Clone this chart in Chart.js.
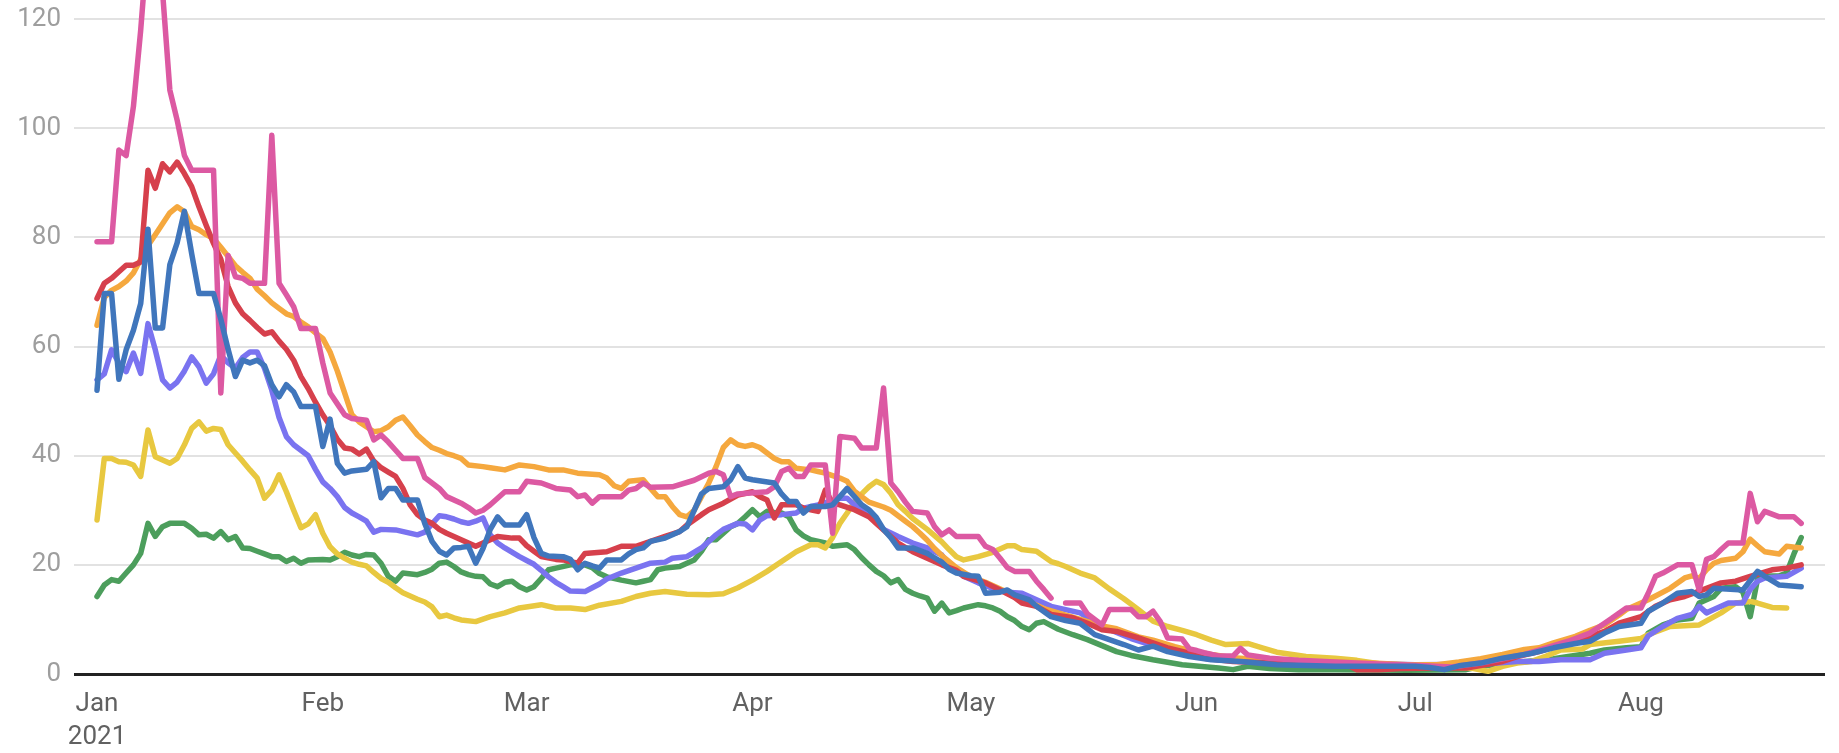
<!DOCTYPE html>
<html>
<head>
<meta charset="utf-8">
<script src="https://cdn.jsdelivr.net/npm/chart.js@4.4.1/dist/chart.umd.min.js"></script>
<style>
html,body{margin:0;padding:0;background:#fff;}
#wrap{width:1839px;height:753px;position:relative;}
</style>
</head>
<body>
<div id="wrap"><canvas id="c" width="1839" height="753"></canvas></div>
<script>
// x = day index (0 = 1 Jan 2021), y = value
const monthDays = [0, 31, 59, 90, 120, 151, 181, 212];
const monthLabels = [['Jan', '2021'], 'Feb', 'Mar', 'Apr', 'May', 'Jun', 'Jul', 'Aug'];
const yTicks = [0, 20, 40, 60, 80, 100, 120];

const pink = [[0,79.2],[2,79.2],[3,96],[4,95],[5,104],[6,118],[7,135],[8,137],[9,125],[10,107],[11,101.5],[12,95],[13,92.3],[16,92.3],[17,51.5],[18,76.7],[19,72.8],[20,72.5],[21,71.6],[23,71.6],[24,98.7],[25,71.6],[26,69.5],[27,67.3],[28,63.3],[30,63.3],[31,57],[32,51.5],[33,49.5],[34,47.5],[35,46.8],[37,46.5],[38,42.9],[39,43.8],[40,42.5],[41,41],[42,39.5],[44,39.5],[45,36],[46,35],[47,34],[48,32.5],[50,31.3],[51,30.5],[52,29.5],[53,30],[54,31],[56,33.4],[58,33.4],[59,35.3],[61,35],[63,34],[65,33.7],[66,32.5],[67,32.8],[68,31.3],[69,32.5],[72,32.5],[73,33.7],[74,34],[75,35],[76,34.2],[79,34.3],[82,35.5],[84,36.8],[85,37.1],[86,36.5],[87,32.5],[88,33],[92,33.4],[93,34.3],[94,37.1],[95,37.7],[96,36.2],[97,36.2],[98,38.3],[100,38.3],[101,25.8],[102,43.5],[104,43.2],[105,41.4],[107,41.4],[108,52.4],[109,35],[110,33.4],[111,31.5],[112,29.8],[114,29.5],[115,27],[116,25.5],[117,26.4],[118,25.2],[121,25.2],[122,23.4],[123,22.8],[124,21.2],[125,19.5],[126,18.8],[128,18.8],[129,17],[130,15.5],[131,13.9],[132,null],[133,13],[135,13],[136,11],[137,10],[138,9],[139,11.8],[142,11.8],[143,10.5],[144,10.5],[145,11.5],[146,9.6],[147,6.6],[149,6.4],[150,4.6],[151,4.3],[152,3.9],[154,3.3],[156,3.3],[157,4.7],[158,3.5],[161,2.9],[165,2.5],[170,2.2],[175,1.9],[181,1.6],[186,1.3],[190,2],[193,2.8],[196,3.6],[199,4.8],[202,6],[205,7.5],[207,9.3],[208,10.2],[210,12.1],[212,12.1],[213,14.8],[214,17.9],[215,18.5],[217,20],[219,20],[220,15.4],[221,21],[222,21.5],[223,22.8],[224,24],[226,24],[227,33.1],[228,27.9],[229,29.8],[231,28.8],[233,28.8],[234,27.6]];

const red = [[0,68.8],[1,71.6],[2,72.5],[3,73.7],[4,74.9],[5,74.9],[6,75.5],[7,92.3],[8,89],[9,93.5],[10,92],[11,93.8],[12,91.7],[13,89.3],[14,85.6],[15,82.2],[16,78.9],[17,76],[18,71],[19,68],[20,66],[21,64.8],[22,63.5],[23,62.3],[24,62.7],[25,61],[26,59.5],[27,57.5],[28,54.5],[29,52.3],[30,49.8],[31,47.5],[32,45.5],[33,43],[34,41.4],[35,41.2],[36,40.3],[37,41.2],[38,39],[39,37.8],[40,37],[41,36.2],[42,34],[43,31],[44,29.2],[45,28.2],[46,27.6],[47,26.5],[48,25.8],[49,25.2],[50,24.6],[51,24],[52,23.4],[53,24],[54,24.6],[55,25.2],[57,24.9],[58,24.9],[59,23.5],[60,22.5],[61,21.5],[63,21],[64,20.9],[66,20.3],[67,22.1],[70,22.4],[72,23.4],[74,23.4],[76,24.3],[78,25.2],[80,26.1],[81,27.3],[83,29.2],[84,30.1],[86,31.3],[88,32.8],[90,33.4],[91,32.5],[92,31.9],[93,28.6],[94,31],[96,31],[97,30.4],[98,30.1],[99,29.8],[100,33.7],[101,31.3],[102,31],[104,30.1],[106,28.8],[107,27.6],[108,26.4],[110,24],[112,22.4],[114,21.2],[116,20],[118,19],[119,17.9],[122,16.7],[124,15.4],[126,14],[127,13],[129,12.4],[131,10.9],[134,10.3],[136,9.3],[138,8.1],[140,7.8],[143,6.6],[145,5.7],[147,4.8],[150,3.8],[152,2.9],[156,2.3],[161,2],[165,1.7],[172,1.4],[173,0.8],[176,0.8],[179,1],[184,1.1],[188,1.1],[191,1.8],[193,2.3],[195,3.2],[198,4.1],[201,5.4],[203,6.3],[205,6.9],[207,7.8],[209,9.3],[212,10.5],[214,12.4],[216,13.6],[218,14.2],[221,15.7],[223,16.7],[225,17],[227,17.9],[230,19.1],[232,19.4],[234,20]];

const orange = [[0,63.9],[1,69],[2,70.3],[3,71],[4,72],[5,73.5],[6,76],[7,78.5],[8,80.5],[9,82.5],[10,84.5],[11,85.6],[12,84.7],[13,82],[14,81.4],[15,80.5],[16,79.8],[17,78.2],[18,76.5],[19,74.8],[20,73.6],[21,72.5],[22,70.5],[23,69.3],[24,68],[25,67],[26,66],[27,65.5],[28,64.5],[29,63.6],[30,62.5],[31,61.5],[32,59],[33,55.5],[34,51.5],[35,47.5],[36,46.2],[37,45.3],[38,44.4],[39,44.6],[40,45.3],[41,46.5],[42,47.1],[43,45.5],[44,43.8],[45,42.6],[46,41.5],[47,41],[48,40.4],[49,40],[50,39.5],[51,38.3],[53,38],[54,37.8],[56,37.4],[58,38.3],[60,38],[62,37.4],[64,37.4],[66,36.8],[69,36.5],[70,35.9],[71,34.5],[72,34],[73,35.3],[75,35.6],[76,34],[77,32.5],[78,32.5],[79,30.7],[80,29.2],[81,28.8],[82,30],[83,32.5],[84,35],[85,38],[86,41.5],[87,42.9],[88,42],[89,41.7],[90,42],[91,41.5],[92,40.5],[93,39.5],[94,38.9],[95,38.9],[96,37.7],[98,37.4],[99,37.1],[100,36.8],[102,35.9],[103,35.3],[104,33.5],[105,32.5],[106,31.5],[108,30.6],[109,30],[110,29],[111,28],[112,27],[113,25.8],[114,24.5],[115,23],[116,21.7],[118,19.5],[120,17.8],[122,16.8],[125,15],[128,13.2],[130,12],[133,10.8],[135,10],[138,8.8],[140,8.3],[143,6.8],[145,6.2],[148,5],[150,4.3],[153,3.6],[156,3],[160,2.6],[165,2.3],[170,2.2],[175,2],[180,1.7],[184,1.7],[187,2.2],[190,2.8],[193,3.6],[196,4.5],[198,4.8],[200,5.7],[203,6.9],[205,8],[207,9],[209,10.8],[210,11.8],[213,13.6],[216,15.7],[218,17.6],[219,18],[220,17.5],[221,19.1],[222,20.3],[223,20.8],[225,21.2],[226,22.4],[227,24.7],[228,23.5],[229,22.4],[231,22],[232,23.4],[234,23.1]];

const blue = [[0,52],[1,69.7],[2,69.7],[3,54],[4,59.4],[5,63],[6,67.9],[7,81.5],[8,63.4],[9,63.4],[10,75],[11,79],[12,84.8],[13,77],[14,69.7],[16,69.7],[17,65],[18,59.5],[19,54.5],[20,57.5],[21,57],[22,57.5],[23,56.5],[24,53],[25,50.8],[26,53],[27,51.7],[28,49],[30,49],[31,41.7],[32,46.7],[33,38.6],[34,36.8],[35,37.2],[37,37.5],[38,38.9],[39,32.3],[40,34],[41,34],[42,31.9],[44,31.9],[45,27.6],[46,24.3],[47,22.5],[48,21.8],[49,23.1],[50,23.2],[51,23.4],[52,20.3],[53,23],[54,26.5],[55,28.8],[56,27.3],[58,27.3],[59,29.2],[60,25],[61,22.1],[62,21.6],[64,21.5],[65,21],[66,19.1],[67,20.3],[68,19.8],[69,19.4],[70,20.9],[72,20.9],[73,22],[74,22.8],[75,23.1],[76,24.3],[78,24.9],[80,26.1],[81,27],[82,30],[83,33],[84,34],[86,34.3],[87,35.6],[88,38],[89,35.9],[90,35.6],[93,35],[94,33],[95,31.6],[96,31.6],[97,29.5],[98,30.7],[100,30.7],[101,31],[103,34],[104,32.5],[105,31],[106,30.1],[107,28.7],[108,26.5],[109,25],[110,23.1],[112,23.1],[114,22.1],[115,21.3],[116,20.5],[117,19.2],[118,18.5],[120,18],[121,17.9],[122,14.8],[124,15],[125,15.4],[126,14.5],[128,13.6],[129,12.4],[131,10.5],[133,9.8],[135,9.3],[137,7.2],[139,6.3],[141,5.4],[143,4.4],[145,5.1],[147,4.1],[150,3.2],[153,2.6],[157,2.3],[162,1.7],[170,1.4],[181,1.4],[183,1.2],[185,0.8],[187,1.5],[190,2],[193,2.9],[197,3.8],[200,4.8],[203,5.6],[205,6],[207,7.5],[209,8.7],[212,9.3],[213,11.5],[215,13],[217,14.8],[219,15.1],[220,14.2],[221,14.5],[222,15.7],[226,15.4],[228,18.8],[229,17.9],[231,16.3],[234,16]];

const violet = [[0,53.9],[1,55],[2,59.4],[3,57],[4,55.4],[5,58.8],[6,55.1],[7,64.2],[8,59.4],[9,53.9],[10,52.4],[11,53.5],[12,55.5],[13,58.1],[14,56.3],[15,53.3],[16,55],[17,58.4],[18,57],[19,56],[20,58],[21,59],[22,59],[23,56],[24,52],[25,47],[26,43.5],[27,42],[28,41],[29,40],[30,37.5],[31,35.2],[32,34],[33,32.5],[34,30.5],[35,29.5],[36,28.8],[37,28],[38,26],[39,26.5],[41,26.4],[44,25.5],[45,26],[46,27.5],[47,29],[48,28.8],[49,28.4],[50,27.9],[51,27.6],[52,28],[53,28.6],[54,25.5],[55,24],[56,23.1],[58,21.5],[59,20.8],[60,20.1],[61,19],[62,17.8],[63,16.8],[64,16],[65,15.2],[67,15.1],[68,15.8],[69,16.5],[70,17.4],[72,18.5],[74,19.4],[76,20.3],[78,20.5],[79,21.2],[81,21.5],[83,23.1],[85,25.5],[86,26.5],[88,27.6],[89,27.5],[90,26.4],[91,28.2],[92,29],[94,29.2],[96,29.5],[97,30.4],[99,31],[101,31.8],[102,32.2],[103,32.2],[104,31],[105,30.2],[106,29.5],[107,28],[108,26.5],[110,25.2],[112,24],[114,23.1],[116,21.8],[117,20],[119,17.9],[121,16.7],[123,15.7],[125,15],[127,14.8],[128,14.2],[131,12.4],[135,11.2],[138,8.7],[142,6.5],[146,4.8],[150,3.6],[152,3.2],[158,2.6],[163,2.3],[172,2],[181,1.7],[190,1.8],[195,2.3],[198,2.3],[201,2.6],[205,2.6],[207,3.8],[210,4.4],[212,4.8],[213,7],[215,8.7],[217,10.2],[219,10.9],[220,12.4],[221,11.2],[222,11.8],[224,13],[226,13],[227,15.5],[228,17],[229,17.6],[232,17.9],[234,19.4]];

const yellow = [[0,28.2],[1,39.5],[2,39.5],[3,38.9],[4,38.8],[5,38.3],[6,36.2],[7,44.7],[8,39.8],[9,39.2],[10,38.6],[11,39.5],[12,42],[13,45],[14,46.2],[15,44.5],[16,45],[17,44.8],[18,42],[19,40.5],[20,39],[21,37.4],[22,35.9],[23,32.2],[24,33.7],[25,36.5],[26,33.4],[27,30],[28,26.8],[29,27.5],[30,29.2],[31,25.8],[32,23.3],[33,22],[34,21.2],[35,20.5],[36,20.1],[37,19.8],[38,18.6],[39,17.5],[40,16.8],[41,15.8],[42,14.9],[43,14.3],[44,13.7],[45,13.2],[46,12.3],[47,10.5],[48,10.8],[49,10.3],[50,9.9],[52,9.6],[54,10.5],[56,11.2],[58,12.1],[61,12.7],[63,12.1],[65,12.1],[67,11.8],[69,12.6],[72,13.3],[74,14.2],[76,14.8],[78,15.1],[81,14.6],[84,14.5],[86,14.7],[88,15.8],[90,17.2],[92,18.8],[94,20.6],[96,22.4],[98,23.7],[99,23.7],[100,23.1],[101,25],[102,27.6],[103,29.5],[104,31.5],[105,33],[106,34.3],[107,35.3],[108,34.7],[109,33.1],[110,31],[111,29.8],[112,28.5],[114,26.5],[116,24.2],[117,22.8],[118,21.5],[119,20.9],[121,21.5],[123,22.3],[125,23.5],[126,23.5],[127,22.8],[129,22.5],[131,20.6],[132,20.2],[133,19.7],[135,18.5],[137,17.6],[139,15.6],[141,13.8],[143,11.8],[145,9.7],[147,8.7],[149,8],[151,7.2],[153,6.2],[155,5.4],[158,5.6],[160,4.8],[162,4],[166,3.2],[170,2.9],[173,2.5],[177,1.7],[185,1.4],[189,1],[191,0.5],[193,1.4],[195,2],[197,2.3],[199,3.3],[201,4.4],[204,4.6],[205,5.4],[209,6],[212,6.5],[213,7.2],[216,8.7],[220,9],[223,11.2],[225,13],[227,13.3],[228,13],[230,12.2],[232,12.1]];

const green = [[0,14.2],[1,16.3],[2,17.3],[3,17],[4,18.5],[5,20],[6,22.1],[7,27.6],[8,25.2],[9,27],[10,27.6],[12,27.6],[13,26.7],[14,25.5],[15,25.6],[16,24.9],[17,26.1],[18,24.6],[19,25.2],[20,23.1],[21,23],[22,22.5],[23,22],[24,21.5],[25,21.5],[26,20.6],[27,21.2],[28,20.3],[29,20.9],[31,21],[32,20.9],[33,21.5],[34,22.3],[35,21.8],[36,21.5],[37,21.9],[38,21.8],[39,20.3],[40,17.9],[41,17],[42,18.5],[44,18.2],[45,18.6],[46,19.2],[47,20.3],[48,20.5],[49,19.7],[50,18.7],[51,18.2],[52,17.9],[53,17.8],[54,16.5],[55,16],[56,16.8],[57,17],[58,16],[59,15.4],[60,16],[61,17.5],[62,19.1],[63,19.4],[65,20],[67,20],[68,19.5],[69,18.4],[70,17.8],[72,17.2],[74,16.7],[75,17],[76,17.3],[77,19.1],[78,19.4],[80,19.7],[82,20.9],[83,22.5],[84,24.6],[85,24.6],[86,25.8],[87,27],[88,27.6],[89,28.8],[90,30.1],[91,28.8],[92,29.8],[93,29.6],[94,29.5],[95,28.8],[96,26.4],[97,25.3],[98,24.6],[100,24],[101,23.4],[103,23.7],[104,22.8],[105,21.3],[106,20],[107,18.8],[108,18],[109,16.7],[110,17.3],[111,15.5],[112,14.8],[113,14.3],[114,13.9],[115,11.5],[116,13],[117,11.2],[118,11.6],[119,12.1],[121,12.7],[122,12.5],[123,12.1],[124,11.5],[125,10.5],[126,9.8],[127,8.7],[128,8.1],[129,9.3],[130,9.6],[132,8.2],[134,7.2],[136,6.3],[138,5.2],[140,4.1],[142,3.4],[145,2.6],[149,1.7],[154,1.1],[156,0.8],[158,1.4],[161,1],[165,0.8],[170,0.8],[180,0.7],[188,0.8],[190,1.4],[194,2],[197,2.4],[200,2.8],[202,3.2],[205,3.8],[207,4.4],[210,4.8],[212,5],[213,7.5],[215,9],[217,9.9],[219,10.2],[220,13],[222,14.2],[223,15.7],[225,16],[226,15],[227,10.5],[228,17.3],[229,17.9],[231,18],[232,18.5],[233,22],[234,25]];

const series = [
  {data: blue,   color: '#4076bc'},
  {data: pink,   color: '#dc59a2'},
  {data: red,    color: '#d6404c'},
  {data: orange, color: '#f5a83e'},
  {data: violet, color: '#7a73f0'},
  {data: yellow, color: '#e8c840'},
  {data: green,  color: '#4c9e5c'}
];

const FONT = 'Roboto, "Noto Sans", Arial, sans-serif';

new Chart(document.getElementById('c'), {
  type: 'line',
  data: {
    datasets: series.map(s => ({
      data: s.data,
      borderColor: s.color,
      backgroundColor: s.color,
      borderWidth: 5.5,
      pointRadius: 0,
      pointHoverRadius: 0,
      tension: 0,
      spanGaps: false,
      borderJoinStyle: 'round',
      borderCapStyle: 'round',
      fill: false
    }))
  },
  options: {
    responsive: false,
    animation: false,
    devicePixelRatio: 1,
    layout: {padding: {top: 0, right: 14, bottom: 0, left: 0}},
    plugins: {legend: {display: false}, tooltip: {enabled: false}},
    scales: {
      x: {
        type: 'linear',
        min: -3.16,
        max: 237.27,
        grid: {display: false, drawTicks: false},
        border: {display: false},
        afterBuildTicks: (scale) => { scale.ticks = monthDays.map(v => ({value: v})); },
        afterFit: (scale) => { scale.height = 79; scale.paddingLeft = 0; scale.paddingRight = 0; },
        ticks: {
          autoSkip: false,
          maxRotation: 0,
          minRotation: 0,
          padding: 14,
          color: '#616161',
          font: {family: FONT, size: 26, lineHeight: 1.27},
          callback: (v) => { const i = monthDays.indexOf(v); return i >= 0 ? monthLabels[i] : ''; }
        }
      },
      y: {
        type: 'linear',
        min: 0,
        max: 123.5,
        grid: {
          drawTicks: false,
          color: (ctx) => ctx.tick && ctx.tick.value === 0 ? '#222222' : '#e2e2e2',
          lineWidth: (ctx) => ctx.tick && ctx.tick.value === 0 ? 3 : 2
        },
        border: {display: false},
        afterBuildTicks: (scale) => { scale.ticks = yTicks.map(v => ({value: v})); },
        afterFit: (scale) => { scale.width = 74; scale.paddingTop = 0; scale.paddingBottom = 0; },
        ticks: {
          padding: 13,
          color: '#9e9e9e',
          font: {family: FONT, size: 26},
          callback: (v) => String(v)
        }
      }
    }
  }
});
</script>
</body>
</html>
